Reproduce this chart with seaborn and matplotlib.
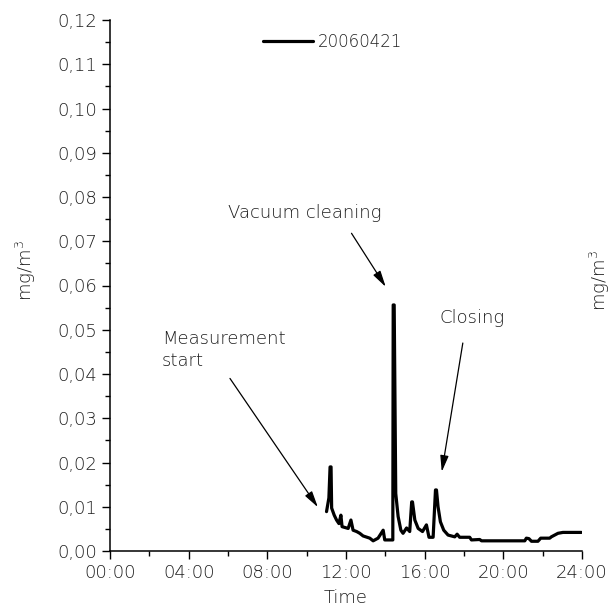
import matplotlib
matplotlib.use("Agg")
import matplotlib.pyplot as plt
import seaborn as sns
import pandas as pd
from matplotlib.ticker import MultipleLocator, FuncFormatter

# dust concentration readings, time in decimal hours
hours = [11.01, 11.13, 11.19, 11.24, 11.27, 11.40, 11.52, 11.64, 11.74, 11.80,
         12.11, 12.25, 12.36, 12.54, 12.70, 12.87, 13.21, 13.38, 13.63, 13.89,
         13.97, 14.38, 14.40, 14.45, 14.53, 14.65, 14.79, 14.90, 15.08, 15.24,
         15.34, 15.38, 15.50, 15.67, 15.89, 16.09, 16.22, 16.43, 16.55, 16.60,
         16.68, 16.80, 16.97, 17.19, 17.53, 17.65, 17.78, 18.29, 18.38, 18.80,
         18.89, 21.09, 21.17, 21.30, 21.43, 21.76, 21.90, 22.36, 22.44, 22.61,
         22.78, 23.03, 23.97]
conc = [0.0089, 0.0120, 0.0190, 0.0190, 0.0097, 0.0081, 0.0070, 0.0062, 0.0081, 0.0055,
        0.0051, 0.0070, 0.0047, 0.0044, 0.0040, 0.0034, 0.0029, 0.0023, 0.0029, 0.0047,
        0.0025, 0.0025, 0.0556, 0.0556, 0.0130, 0.0078, 0.0047, 0.0040, 0.0052, 0.0044,
        0.0111, 0.0111, 0.0070, 0.0051, 0.0044, 0.0059, 0.0031, 0.0031, 0.0138, 0.0138,
        0.0100, 0.0066, 0.0047, 0.0036, 0.0032, 0.0038, 0.0031, 0.0031, 0.0025, 0.0026,
        0.0023, 0.0023, 0.0029, 0.0028, 0.0022, 0.0022, 0.0029, 0.0029, 0.0032, 0.0036,
        0.0040, 0.0042, 0.0042]
series_name = "20060421"
time_ticks = [0, 4, 8, 12, 16, 20, 24]
time_labels = ["00:00", "04:00", "08:00", "12:00", "16:00", "20:00", "24:00"]

df = pd.DataFrame({"Time": hours, "conc": conc})

sns.set_style("ticks")
plt.rcParams["font.family"] = ["DejaVu Sans"]
plt.rcParams["font.weight"] = "light"
txt = "#1e1e1e"
fs = 13

fig = plt.figure(figsize=(6.13, 6.11), dpi=100)
ax = fig.add_axes([110 / 613, 1 - 551 / 611, 472 / 613, 531 / 611])

sns.lineplot(data=df, x="Time", y="conc", sort=False, estimator=None,
             color="black", lw=2.3, ax=ax, label=series_name)

ax.set_xlim(0, 24)
ax.set_ylim(0, 0.12)
ax.set_xticks(time_ticks)
ax.set_xticklabels(time_labels)
ax.xaxis.set_minor_locator(MultipleLocator(2))
ax.yaxis.set_major_locator(MultipleLocator(0.01))
ax.yaxis.set_minor_locator(MultipleLocator(0.005))
ax.yaxis.set_major_formatter(FuncFormatter(lambda v, p: f"{v:.2f}".replace(".", ",")))
ax.tick_params(which="major", direction="out", length=6, width=1, labelsize=fs,
               colors="black", labelcolor=txt, pad=3)
ax.tick_params(which="minor", direction="out", length=3.5, width=1, colors="black")
for s in ["left", "bottom"]:
    ax.spines[s].set_linewidth(1.1)
    ax.spines[s].set_color("black")
sns.despine(ax=ax)

ax.set_xlabel("")
ax.set_ylabel("")
fig.text(346 / 613, 1 - 598 / 611, "Time", ha="center", va="center",
         fontsize=fs, color=txt)
fig.text(26 / 613, 1 - 271 / 611, "mg/m$^3$", rotation=90, ha="center", va="center",
         fontsize=fs, color=txt)
fig.text(600 / 613, 1 - 281 / 611, "mg/m$^3$", rotation=90, ha="center", va="center",
         fontsize=fs, color=txt)

leg = ax.legend(loc="center left", bbox_to_anchor=(263 / 613, 1 - 42 / 611),
                bbox_transform=fig.transFigure, frameon=False,
                prop={"family": ["Liberation Sans Narrow", "DejaVu Sans"], "size": 12},
                handlelength=3.0, handletextpad=0.3, borderpad=0, borderaxespad=0)
for t in leg.get_texts():
    t.set_color(txt)

# annotations
ax.text(6.0, 0.0753, "Vacuum cleaning", fontsize=fs, color=txt, va="baseline")
ax.text(2.64, 0.0500, "Measurement\nstart", fontsize=fs, color=txt, va="top",
        linespacing=1.3)
ax.text(16.77, 0.0548, "Closing", fontsize=fs, color=txt, va="top")

arrow = dict(arrowstyle="-|>,head_width=0.18,head_length=0.7", color="black", lw=0.9,
             shrinkA=0, shrinkB=0, mutation_scale=14)
ax.annotate("", xy=(10.57, 0.0099), xytext=(6.10, 0.0390), arrowprops=arrow)
ax.annotate("", xy=(14.02, 0.0597), xytext=(12.28, 0.0718), arrowprops=arrow)
ax.annotate("", xy=(16.87, 0.0179), xytext=(17.94, 0.0470), arrowprops=arrow)

fig.savefig("out.png", dpi=100)
